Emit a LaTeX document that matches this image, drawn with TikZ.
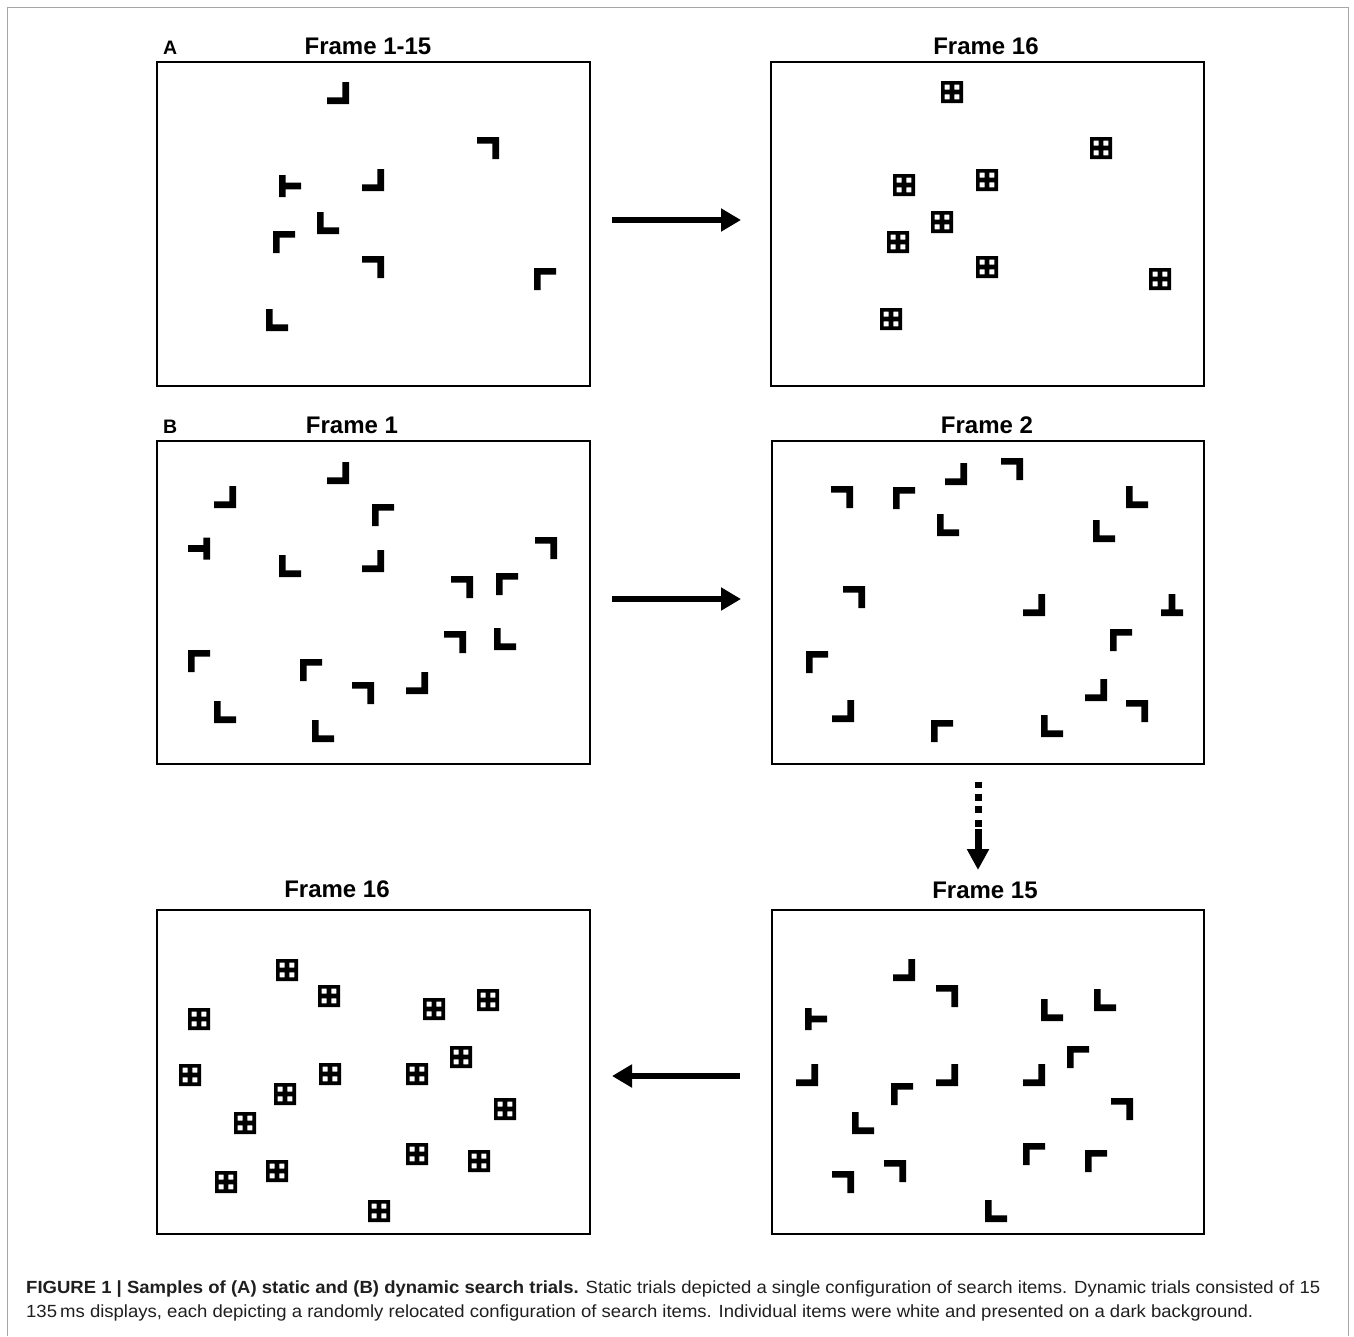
\documentclass[tikz,border=0pt]{standalone}
\usepackage{fontspec}
\setmainfont{Liberation Sans}
\usepackage{graphicx}
\usetikzlibrary{arrows.meta}

\tikzset{
  panel/.style={draw=black, line width=2.8pt, minimum width=433pt, minimum height=324pt, inner sep=0pt, outer sep=0pt},
  frametitle/.style={font=\fontsize{24}{28}\selectfont\bfseries, anchor=base, inner sep=0pt},
  tag/.style={font=\fontsize{19.5}{22}\selectfont\bfseries, anchor=base west, inner sep=0pt},
  captext/.style={font=\fontsize{17.6}{20}\selectfont, anchor=base west, inner sep=0pt, text=black!88},
  bigarrow/.style={line width=5.5pt, -{Triangle[length=20pt,width=22pt]}},
  dotarrow/.style={line width=7pt, dash pattern=on 6.6pt off 5.8pt on 6.6pt off 5.6pt on 6.6pt off 7.4pt on 6.6pt off 1.6pt on 200pt, -{Triangle[length=21pt,width=21pt]}},
  outerframe/.style={draw=gray!70, line width=1pt},
  pics/cbr/.style={code={\fill (4.3,-11) -- (11,-11) -- (11,11) -- (-11,11) -- (-11,4.3) -- (4.3,4.3) -- cycle;}},
  pics/ctr/.style={code={\fill (-11,-11) -- (11,-11) -- (11,11) -- (4.3,11) -- (4.3,-4.3) -- (-11,-4.3) -- cycle;}},
  pics/ctl/.style={code={\fill (-11,-11) -- (11,-11) -- (11,-4.3) -- (-4.3,-4.3) -- (-4.3,11) -- (-11,11) -- cycle;}},
  pics/cbl/.style={code={\fill (-11,-11) -- (-4.3,-11) -- (-4.3,4.3) -- (11,4.3) -- (11,11) -- (-11,11) -- cycle;}},
  pics/tee-left/.style={code={\fill (-11,-11) -- (-4.3,-11) -- (-4.3,-3.35) -- (11,-3.35) -- (11,3.35) -- (-4.3,3.35) -- (-4.3,11) -- (-11,11) -- cycle;}},
  pics/tee-right/.style={code={\fill (11,-11) -- (4.3,-11) -- (4.3,-3.35) -- (-11,-3.35) -- (-11,3.35) -- (4.3,3.35) -- (4.3,11) -- (11,11) -- cycle;}},
  pics/tee-bottom/.style={code={\fill (-3.35,-11) -- (3.35,-11) -- (3.35,4.3) -- (11,4.3) -- (11,11) -- (-11,11) -- (-11,4.3) -- (-3.35,4.3) -- cycle;}},
  pics/gridsq/.style={code={\fill[even odd rule] (-11,-11) rectangle (11,11)
      (-7.3,-7.3) rectangle (-2.3,-2.3) (2.3,-7.3) rectangle (7.3,-2.3)
      (-7.3,2.3) rectangle (-2.3,7.3) (2.3,2.3) rectangle (7.3,7.3);}},
}

\begin{document}
\begin{tikzpicture}[x=1pt, y=-1pt]
\useasboundingbox (0,0) rectangle (1354,1336);
\fill[white] (0,0) rectangle (1354,1336);
\draw[outerframe] (7.5,1336) -- (7.5,7.5) -- (1348.5,7.5) -- (1348.5,1336);

% panels
\node[panel] (A1) at (373.5,224) {};
\node[panel] (A2) at (987.5,224) {};
\node[panel, minimum height=323pt] (B1) at (373.5,602.5) {};
\node[panel, minimum height=323pt, minimum width=432pt] (B2) at (988,602.5) {};
\node[panel] (B4) at (373.5,1072) {};
\node[panel, minimum width=432pt] (B3) at (988,1072) {};

% titles
\node[tag] (tA) at (163,54) {A};
\node[tag] (tB) at (163,433) {B};
\node[frametitle] (ttA1) at (368,54) {Frame 1-15};
\node[frametitle] (ttA2) at (986,54) {Frame 16};
\node[frametitle] (ttB1) at (352,433) {Frame 1};
\node[frametitle] (ttB2) at (987,433) {Frame 2};
\node[frametitle] (ttB4) at (337,897) {Frame 16};
\node[frametitle] (ttB3) at (985,898) {Frame 15};

% arrows
\coordinate (a1s) at (612,220);
\coordinate (a1e) at (741,220);
\coordinate (b1s) at (612,599);
\coordinate (b1e) at (741,599);
\coordinate (ds) at (978,781.7);
\coordinate (de) at (978,870);
\coordinate (cs) at (740,1076);
\coordinate (ce) at (612,1076);
\draw[bigarrow] (a1s) -- (a1e);
\draw[bigarrow] (b1s) -- (b1e);
\draw[dotarrow] (ds) -- (de);
\draw[bigarrow] (cs) -- (ce);

% Panel A1 (Frame 1-15)
\pic at (338,93) {cbr};
\pic at (488,148) {ctr};
\pic at (290,186) {tee-left};
\pic at (373,180) {cbr};
\pic at (328,223) {cbl};
\pic at (284,242) {ctl};
\pic at (373,267) {ctr};
\pic at (545,279) {ctl};
\pic at (277,320) {cbl};

% Panel A2 (Frame 16)
\foreach \p in {(952,92),(1101,148),(904,185),(987,180),(942,222),(898,242),(987,267),(1160,279),(891,319)}
  \pic at \p {gridsq};

% Panel B1 (Frame 1)
\pic at (338,473) {cbr};
\pic at (225,497) {cbr};
\pic at (383,515) {ctl};
\pic at (199,548.5) {tee-right};
\pic at (290,566) {cbl};
\pic at (373,561) {cbr};
\pic at (546,548) {ctr};
\pic at (462,587) {ctr};
\pic at (507,584) {ctl};
\pic at (455,642) {ctr};
\pic at (505,639) {cbl};
\pic at (199,661) {ctl};
\pic at (311,670) {ctl};
\pic at (363,693) {ctr};
\pic at (417,683) {cbr};
\pic at (225,712) {cbl};
\pic at (323,731) {cbl};

% Panel B2 (Frame 2)
\pic at (842,497) {ctr};
\pic at (904,498) {ctl};
\pic at (956,474) {cbr};
\pic at (1012,469) {ctr};
\pic at (948,525) {cbl};
\pic at (1137,497) {cbl};
\pic at (1104,531) {cbl};
\pic at (854,597) {ctr};
\pic at (1034,605) {cbr};
\pic at (1172,605) {tee-bottom};
\pic at (1121,640) {ctl};
\pic at (817,662) {ctl};
\pic at (1096,690) {cbr};
\pic at (1137,711) {ctr};
\pic at (843,711) {cbr};
\pic at (942,731) {ctl};
\pic at (1052,726) {cbl};

% Panel B3 (Frame 15)
\pic at (904,970) {cbr};
\pic at (947,996) {ctr};
\pic at (816,1019) {tee-left};
\pic at (1052,1010) {cbl};
\pic at (1105,1000) {cbl};
\pic at (807,1075) {cbr};
\pic at (902,1094) {ctl};
\pic at (947,1075) {cbr};
\pic at (1034,1075) {cbr};
\pic at (1078,1057) {ctl};
\pic at (863,1123) {cbl};
\pic at (1122,1109) {ctr};
\pic at (1034,1154) {ctl};
\pic at (1096,1161) {ctl};
\pic at (895,1171) {ctr};
\pic at (843,1182) {ctr};
\pic at (996,1211) {cbl};

% Panel B4 (Frame 16)
\foreach \p in {(287,970),(329,996),(199,1019),(434,1009),(488,1000),(190,1075),(285,1094),(330,1074),(417,1074),(461,1057),(245,1123),(505,1109),(417,1154),(479,1161),(277,1171),(226,1182),(379,1211)}
  \pic at \p {gridsq};

% caption
\node[captext] (cap1) at (26,1293) {\resizebox{1294pt}{\height}{\textbf{FIGURE 1 | Samples of (A) static and (B) dynamic search trials.} Static trials depicted a single configuration of search items. Dynamic trials consisted of 15}};
\node[captext] (cap2) at (26,1317) {\resizebox{1227pt}{\height}{135\,ms displays, each depicting a randomly relocated configuration of search items. Individual items were white and presented on a dark background.}};
\end{tikzpicture}
\end{document}
